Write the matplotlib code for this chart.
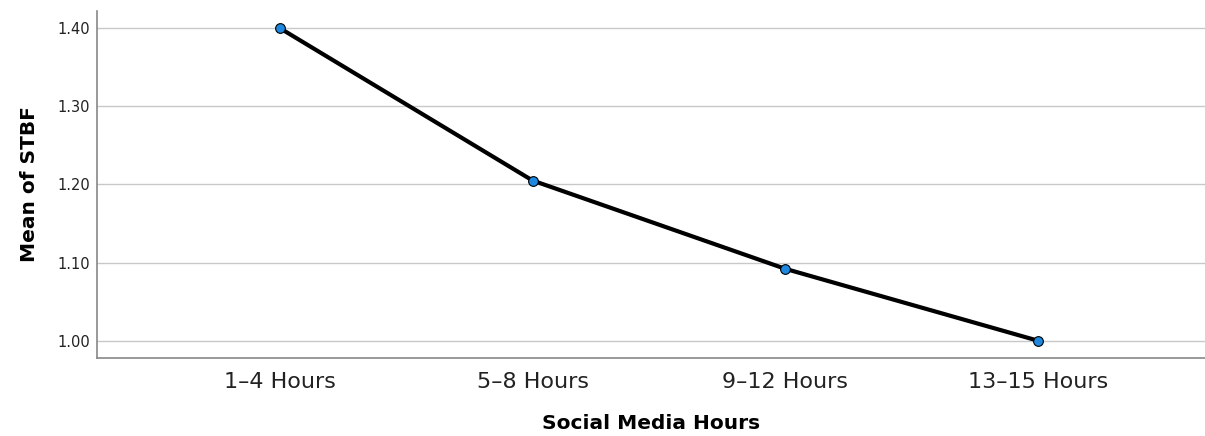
import matplotlib
matplotlib.use("Agg")
import matplotlib.pyplot as plt

categories = ["1–4 Hours", "5–8 Hours", "9–12 Hours", "13–15 Hours"]
means = [1.40, 1.205, 1.092, 1.00]
yticks = [1.00, 1.10, 1.20, 1.30, 1.40]

plt.rcParams['font.family'] = ['DejaVu Sans']
fig = plt.figure(figsize=(12.05, 4.36), dpi=100)
ax = fig.add_axes([0.0805, 0.179, 0.9195, 0.796])

x = list(range(len(categories)))
ax.plot(x, means, color='black', linewidth=3, zorder=3,
        marker='o', markersize=7, markerfacecolor='#1e88e0',
        markeredgecolor='black', markeredgewidth=0.8)

ax.set_xlim(-0.723, 3.66)
ax.set_ylim(0.978, 1.422)
ax.set_yticks(yticks)
ax.set_yticklabels([f"{v:.2f}" for v in yticks], fontsize=10.5, color='#222222')
ax.set_xticks(x)
ax.set_xticklabels(categories, fontsize=16, color='#222222')
ax.tick_params(axis='both', length=0)
ax.tick_params(axis='x', pad=10)
ax.tick_params(axis='y', pad=5)
ax.grid(axis='y', color='#c8c8c8', linewidth=1)
ax.set_axisbelow(True)
for s in ['top', 'right']:
    ax.spines[s].set_visible(False)
for s in ['left', 'bottom']:
    ax.spines[s].set_color('#888888')
    ax.spines[s].set_linewidth(1.2)

ax.set_ylabel("Mean of STBF", fontsize=14.5, fontweight='bold', labelpad=13)
ax.set_xlabel("Social Media Hours", fontsize=14.5, fontweight='bold', labelpad=16)

fig.savefig("out.png", dpi=100)
